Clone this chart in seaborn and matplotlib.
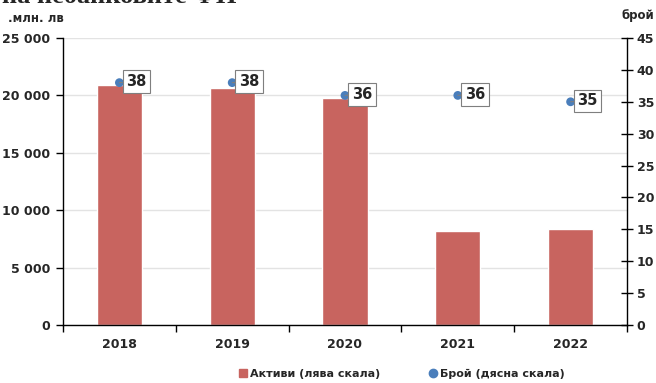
import numpy as np
import pandas as pd
import matplotlib
matplotlib.use("Agg")
import matplotlib.pyplot as plt
import matplotlib.ticker as mticker
import seaborn as sns

# Data
years = ["2018", "2019", "2020", "2021", "2022"]
assets = [20900, 20650, 19750, 8200, 8380]      # млн. лв (left scale)
counts = [38, 38, 36, 36, 35]                   # брой (right scale)

bar_color = "#C8645F"
dot_color = "#4A7EBB"

sns.set_theme(style="white")
plt.rcParams["font.family"] = ["Liberation Sans Narrow", "DejaVu Sans"]
plt.rcParams["font.weight"] = "bold"

df = pd.DataFrame({"year": years, "assets": assets, "count": counts})

fig = plt.figure(figsize=(6.56, 3.83), dpi=100)
ax = fig.add_axes([63 / 656, 1 - 325 / 383, 564 / 656, 287 / 383])

sns.barplot(data=df, x="year", y="assets", color=bar_color, width=0.4,
            saturation=1, ax=ax, zorder=2)
ax.set_xlim(-0.5, len(years) - 0.5)
ax.set_ylim(0, 25000)
ax.yaxis.set_major_locator(mticker.MultipleLocator(5000))
ax.yaxis.set_major_formatter(mticker.FuncFormatter(lambda v, p: f"{int(v):,}".replace(",", " ")))
ax.grid(axis="y", color="#E3E3E3", linewidth=1, zorder=0)
ax.set_axisbelow(True)
ax.set_xlabel("")
ax.set_ylabel("")

for s in ["left", "bottom"]:
    ax.spines[s].set_color("black")
    ax.spines[s].set_linewidth(1)
ax.spines["top"].set_visible(False)
ax.spines["right"].set_visible(False)

ax.tick_params(axis="y", which="major", left=True, length=5, width=1, color="black",
               labelsize=9, pad=4)
ax.tick_params(axis="x", which="major", length=0, labelsize=9, pad=9)
ax.set_xticks(np.arange(-0.5, len(years)), minor=True)
ax.tick_params(axis="x", which="minor", bottom=True, length=5, width=1, color="black")
for lbl in ax.get_xticklabels() + ax.get_yticklabels():
    lbl.set_fontweight("bold")

# Right axis: number of entities
ax2 = ax.twinx()
sns.scatterplot(x=np.arange(len(years)), y=counts, color=dot_color, s=40,
                edgecolor="none", ax=ax2, zorder=3)
ax2.set_ylim(0, 45)
ax2.set_xlim(-0.5, len(years) - 0.5)
ax2.yaxis.set_major_locator(mticker.MultipleLocator(5))
ax2.tick_params(axis="y", right=True, direction="inout", length=8, width=1,
                color="black", labelsize=9, pad=3)
for lbl in ax2.get_yticklabels():
    lbl.set_fontweight("bold")
for s in ["left", "top", "bottom"]:
    ax2.spines[s].set_visible(False)
ax2.spines["right"].set_color("black")
ax2.spines["right"].set_linewidth(1)
ax2.grid(False)

for i, c in enumerate(counts):
    ax2.annotate(str(c), xy=(i, c), xytext=(17, 1), textcoords="offset pixels",
                 ha="center", va="center", fontsize=10.5, fontweight="bold",
                 bbox=dict(boxstyle="square,pad=0.25", fc="white", ec="#7F7F7F", lw=0.8),
                 arrowprops=dict(arrowstyle="-", color="#7F7F7F", lw=0.8,
                                 shrinkA=0, shrinkB=0))

# Unit labels
fig.text(8 / 656, 1 - 18 / 383, ".млн. лв", fontsize=8.5, fontweight="bold",
         va="center", ha="left")
fig.text(654 / 656, 1 - 15 / 383, "брой", fontsize=8.5, fontweight="bold",
         va="center", ha="right")

# Cropped title at the very top
fig.text(2 / 656, 1 - 3 / 383, "на небанковите ФИ", fontsize=19, fontweight="bold",
         family=["Liberation Serif", "DejaVu Serif"], va="baseline", ha="left")

# Legend
handles = [
    plt.Line2D([], [], marker="s", color=bar_color, linestyle="none", markersize=6),
    plt.Line2D([], [], marker="o", color=dot_color, linestyle="none", markersize=6),
]
fig.legend(handles, ["Активи (лява скала)", "Брой (дясна скала)"],
           loc="center", bbox_to_anchor=(402 / 656, 1 - 374 / 383), ncol=2,
           frameon=False, handlelength=0.6, handletextpad=0.3, columnspacing=4.5,
           prop={"size": 8, "weight": "bold"})

fig.savefig("out.png", dpi=100)
